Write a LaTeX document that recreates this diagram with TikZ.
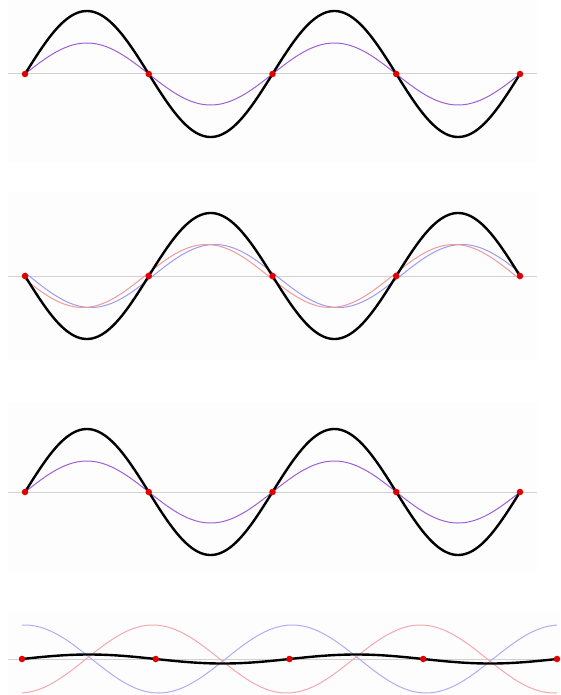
\documentclass[tikz,border=0pt]{standalone}
\definecolor{wpurple}{HTML}{A060D4}
\definecolor{wred}{HTML}{F09A9A}
\definecolor{wblue}{HTML}{9C9CF0}
\definecolor{wred4}{HTML}{F5A8AE}
\definecolor{wblue4}{HTML}{AEAEF5}
\definecolor{dotred}{HTML}{E00000}
\definecolor{panelbg}{HTML}{FDFDFD}
\tikzset{
  axisline/.style={draw=black!18, line width=1pt},
  mainwave/.style={draw=black, line width=2.4pt, line join=round},
  thinwave/.style={line width=1pt},
  nodedot/.style={circle, fill=dotred, inner sep=0pt, minimum size=6.5pt},
  panel/.style={fill=panelbg}
}
\begin{document}
\begin{tikzpicture}[x=1pt,y=-1pt]
\useasboundingbox (0,0) rectangle (560,695);
\fill[white] (0,0) rectangle (560,695);
% faint panels
\fill[panel] (8,0) rectangle (537,162);
\fill[panel] (8,192) rectangle (537,360);
\fill[panel] (8,403) rectangle (537,572);
\fill[panel] (8,612) rectangle (560,695);

% ---------- panel 1 ----------
\coordinate (a1s) at (8,74);
\coordinate (a1e) at (537,74);
\draw[axisline] (a1s) -- (a1e);
\draw[thinwave, wpurple] plot[domain=25:520, samples=200, smooth] (\x, {74 - 31*sin(1.454545*(\x-25))});
\draw[mainwave] plot[domain=25:520, samples=200, smooth] (\x, {74 - 63*sin(1.454545*(\x-25))});
\foreach \i/\xx in {1/25,2/148.75,3/272.5,4/396.25,5/520}
  \node[nodedot] (p1n\i) at (\xx,74) {};

% ---------- panel 2 ----------
\coordinate (a2s) at (8,276);
\coordinate (a2e) at (537,276);
\draw[axisline] (a2s) -- (a2e);
\draw[thinwave, wblue] plot[domain=25:520, samples=200, smooth] (\x, {276 + 31.5*sin(1.454545*(\x-25) - 6)});
\draw[thinwave, wred] plot[domain=25:520, samples=200, smooth] (\x, {276 + 31.5*sin(1.454545*(\x-25) + 6)});
\draw[mainwave] plot[domain=25:520, samples=200, smooth] (\x, {276 + 63*sin(1.454545*(\x-25))});
\foreach \i/\xx in {1/25,2/148.75,3/272.5,4/396.25,5/520}
  \node[nodedot] (p2n\i) at (\xx,276) {};

% ---------- panel 3 ----------
\coordinate (a3s) at (8,492);
\coordinate (a3e) at (537,492);
\draw[axisline] (a3s) -- (a3e);
\draw[thinwave, wpurple] plot[domain=25:520, samples=200, smooth] (\x, {492 - 31*sin(1.454545*(\x-25))});
\draw[mainwave] plot[domain=25:520, samples=200, smooth] (\x, {492 - 63*sin(1.454545*(\x-25))});
\foreach \i/\xx in {1/25,2/148.75,3/272.5,4/396.25,5/520}
  \node[nodedot] (p3n\i) at (\xx,492) {};

% ---------- panel 4 ----------
\coordinate (a4s) at (8,659);
\coordinate (a4e) at (560,659);
\draw[axisline] (a4s) -- (a4e);
\draw[thinwave, wblue4] plot[domain=22:557, samples=200, smooth] (\x, {659 - 34*cos(1.345794*(\x-22) - 3.8)});
\draw[thinwave, wred4] plot[domain=22:557, samples=200, smooth] (\x, {659 + 34*cos(1.345794*(\x-22) + 3.8)});
\draw[mainwave] plot[domain=22:557, samples=200, smooth] (\x, {659 - 34*cos(1.345794*(\x-22) - 3.8) + 34*cos(1.345794*(\x-22) + 3.8)});
\foreach \i/\xx in {1/22,2/155.75,3/289.5,4/423.25,5/557}
  \node[nodedot] (p4n\i) at (\xx,659) {};
\end{tikzpicture}
\end{document}
